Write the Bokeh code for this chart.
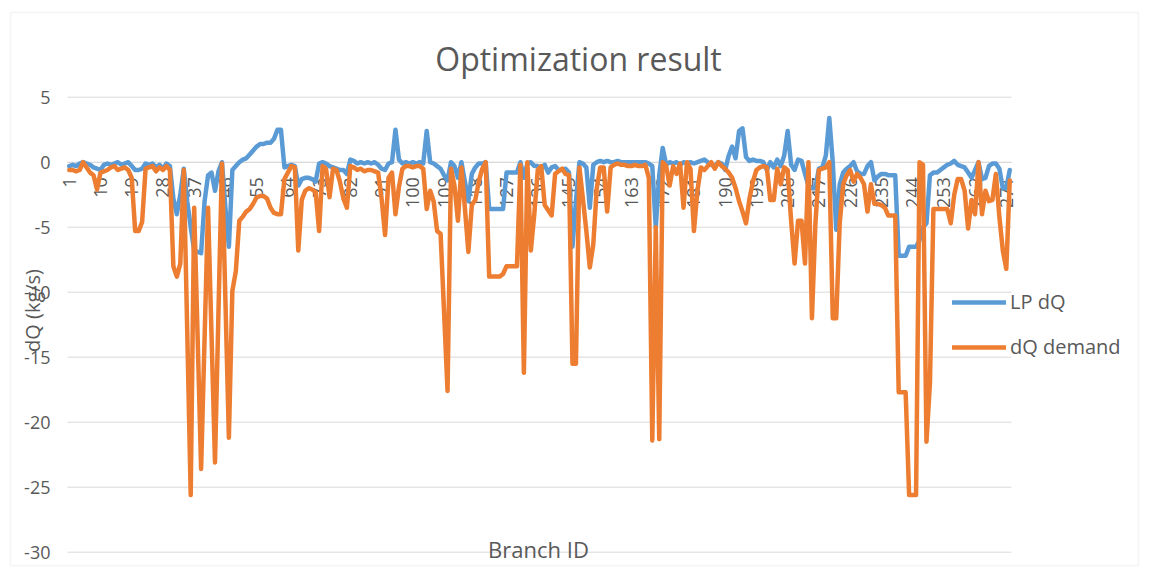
from math import pi
from bokeh.plotting import figure
from bokeh.models import (Range1d, FixedTicker, Legend, LegendItem, Label,
                          BoxAnnotation, LinearAxis)
from bokeh.embed import file_html
from bokeh.resources import INLINE

categories = list(range(1, 273))

lp_dq = [
    -0.3, -0.2, -0.3, -0.1, 0.0, -0.1, -0.2, -0.4, -0.5, -0.6,
    -0.2, -0.1, -0.2, -0.1, 0.0, -0.2, -0.1, 0.0, -0.3, -0.6,
    -0.6, -0.5, -0.1, -0.2, -0.1, -0.4, -0.2, -0.5, -0.1, -0.3,
    -2.8, -4.0, -2.5, -0.5, -3.0, -5.0, -6.8, -6.9, -7.0, -3.0,
    -1.0, -0.8, -2.2, -0.7, 0.0, -3.5, -6.5, -0.6, -0.3, 0.0,
    0.2, 0.3, 0.6, 0.9, 1.2, 1.4, 1.4, 1.5, 1.5, 1.8,
    2.5, 2.5, -0.4, -0.3, -0.2, -0.3, -1.8, -1.3, -1.2, -1.2,
    -1.3, -1.5, -0.1, 0.0, -0.1, -0.3, -0.4, -0.5, -0.6, -0.6,
    -0.9, 0.2, 0.1, -0.1, 0.0, -0.1, 0.0, -0.1, 0.0, -0.2,
    -0.5, -0.6, -0.1, 0.0, 2.5, 0.2, -0.1, 0.0, -0.1, 0.0,
    -0.1, 0.0, -0.1, 2.4, 0.0, -0.1, -0.3, -0.5, -1.0, -1.4,
    0.0, -0.3, -1.2, 0.0, -1.5, -3.0, -0.9, -0.4, -0.1, -0.1,
    0.0, -3.6, -3.6, -3.6, -3.6, -3.6, -0.8, -0.8, -0.8, -0.8,
    0.0, -1.2, -0.1, 0.0, -0.3, -0.3, -0.5, -0.2, -0.8, -0.4,
    -0.3, -0.6, -0.6, -0.5, -0.8, -6.5, -3.0, 0.0, -0.1, -0.4,
    -3.5, -0.2, 0.0, 0.1, 0.0, 0.1, 0.0, 0.0, 0.1, 0.0,
    0.0, 0.0, 0.0, 0.0, 0.0, 0.0, 0.0, -0.1, -0.3, -5.0,
    -1.0, 1.1, -0.2, 0.0, -0.1, 0.0, -0.2, 0.0, -0.1, 0.0,
    -0.1, 0.0, 0.1, 0.2, 0.0, -0.2, -0.3, 0.0, -0.1, -0.6,
    0.5, 1.2, 0.3, 2.4, 2.6, 0.4, 0.1, 0.2, 0.1, 0.1,
    0.0, -0.6, 0.0, -0.4, 0.2, -0.3, 0.5, 2.4, -0.2, -0.6,
    0.2, 0.1, -0.9, -1.8, -2.0, -2.0, -0.5, -0.4, 0.5, 3.4,
    0.0, -5.2, -1.7, -0.8, -0.5, -0.3, 0.0, -0.7, -0.9, -0.9,
    -0.3, 0.0, -1.4, -1.1, -0.9, -0.9, -1.0, -1.0, -1.0, -7.2,
    -7.2, -7.2, -6.5, -6.5, -6.5, -6.0, -5.0, -4.7, -1.0, -0.8,
    -0.8, -0.6, -0.4, -0.2, -0.1, 0.1, -0.2, -0.3, -0.4, -0.8,
    -1.2, -0.6, 0.0, -1.3, -1.2, -0.3, -0.1, -0.1, -0.5, -2.0,
    -2.0, -0.6,
]

dq_demand = [
    -0.6, -0.6, -0.7, -0.6, 0.0, -0.4, -0.8, -1.0, -2.1, -0.8,
    -0.7, -0.6, -0.4, -0.3, -0.6, -0.5, -0.4, -0.6, -1.2, -5.3,
    -5.3, -4.6, -0.5, -0.4, -0.3, -0.7, -0.4, -0.6, -0.3, -0.6,
    -8.0, -8.8, -7.8, -0.6, -13.0, -25.6, -3.5, -13.5, -23.6, -13.5,
    -3.5, -13.3, -23.1, -11.5, -0.1, -10.6, -21.2, -9.9, -8.4, -4.5,
    -4.2, -3.8, -3.6, -3.2, -2.7, -2.6, -2.6, -2.8, -3.5, -3.9,
    -4.0, -4.0, -1.3, -0.8, -0.3, -0.4, -6.8, -2.9, -2.2, -2.0,
    -2.1, -2.3, -5.3, -0.3, -0.5, -2.7, -0.5, -0.6, -1.5, -2.8,
    -3.5, -0.3, -0.4, -0.6, -0.5, -0.7, -0.6, -0.6, -0.7, -0.8,
    -2.8, -5.6, -1.2, -0.8, -4.0, -1.9, -0.5, -0.3, -0.3, -0.4,
    -0.3, -0.3, -0.5, -3.6, -2.2, -3.0, -5.3, -5.5, -11.5, -17.6,
    -0.5, -1.8, -4.5, -0.4, -3.5, -6.9, -3.3, -2.9, -1.5, -0.5,
    0.0, -8.8, -8.8, -8.8, -8.8, -8.6, -8.0, -8.0, -8.0, -8.0,
    -0.2, -16.2, 0.0, -6.8, -4.0, -0.6, -0.3, -3.3, -3.7, -4.1,
    -0.9, -0.7, -0.5, -0.9, -1.0, -15.5, -15.5, -0.4, -2.8, -5.3,
    -8.1, -6.3, -2.0, -0.4, -0.4, -3.8, -0.4, -0.2, -0.1, -0.2,
    -0.2, -0.3, -0.3, -0.2, -0.3, -0.3, -0.2, -1.2, -21.4, -5.0,
    -21.3, 0.0, -0.3, -1.8, -0.3, -0.9, -0.1, -3.5, 0.0, -0.5,
    -5.3, -2.2, -0.4, -0.6, -0.3, 0.0, -0.5, 0.0, -0.3, -0.5,
    -0.8, -1.2, -2.0, -3.0, -3.8, -4.7, -2.8, -1.5, -0.6, -0.4,
    -0.3, -0.4, -2.9, -2.9, -0.5, -1.7, -0.4, -0.6, -4.5, -7.8,
    -4.5, -4.5, -7.8, 0.0, -12.0, -4.7, -0.6, -0.5, -0.4, 0.0,
    -12.0, -12.0, -4.7, -1.7, -1.0, -0.6, -1.5, -0.9, -1.2, -1.7,
    -3.8, -1.7, -3.2, -3.2, -3.3, -3.5, -4.1, -4.1, -4.1, -17.7,
    -17.7, -17.7, -25.6, -25.6, -25.6, 0.0, -0.2, -21.5, -17.0, -3.6,
    -3.6, -3.6, -3.6, -3.6, -4.7, -2.5, -1.3, -1.3, -2.2, -5.1,
    -2.9, -4.0, 0.0, -4.0, -2.2, -3.0, -2.9, -0.9, -4.2, -6.8,
    -8.2, -1.4,
]

x_tick_labels = list(range(1, 272, 9))
y_ticks = [-30, -25, -20, -15, -10, -5, 0, 5]

TEXT = "#595959"
GRID = "#d9d9d9"
FONT = "Open Sans"

# canvas / plot-area geometry (pixels)
W, H = 1149, 568
PL, PR, PT, PB = 67.0, 1011.0, 96.7, 551.7
X_LO, X_HI = 0.5, len(categories) + 0.5
Y_LO, Y_HI = min(y_ticks), max(y_ticks)
kx = (X_HI - X_LO) / (PR - PL)
ky = (Y_HI - Y_LO) / (PB - PT)

p = figure(width=W, height=H, output_backend="svg", toolbar_location=None,
           x_range=Range1d(X_LO - PL * kx, X_HI + (W - PR) * kx),
           y_range=Range1d(Y_LO - (H - PB) * ky, Y_HI + PT * ky),
           min_border=0, x_axis_location=None, y_axis_location=None)
p.outline_line_color = None
p.background_fill_color = "white"
p.border_fill_color = "white"
p.grid.visible = False

# horizontal gridlines limited to the plot area
p.segment(x0=[X_LO] * len(y_ticks), x1=[X_HI] * len(y_ticks),
          y0=y_ticks, y1=y_ticks, line_color=GRID, line_width=1)

ya = LinearAxis(fixed_location=X_LO, ticker=FixedTicker(ticks=y_ticks),
                bounds=(Y_LO, Y_HI), level="underlay")
ya.major_label_overrides = {t: str(t) for t in y_ticks}
ya.axis_line_color = None
ya.major_tick_line_color = None
ya.minor_tick_line_color = None
ya.major_tick_out = 0
ya.major_tick_in = 0
ya.major_label_standoff = 17
ya.major_label_text_font = FONT
ya.major_label_text_font_size = "18px"
ya.major_label_text_color = TEXT
p.add_layout(ya, "left")

xa = LinearAxis(fixed_location=0, ticker=FixedTicker(ticks=x_tick_labels),
                major_label_orientation=pi / 2, bounds=(X_LO, X_HI),
                level="underlay")
xa.major_label_overrides = {t: str(t) for t in x_tick_labels}
xa.axis_line_color = GRID
xa.axis_line_width = 1
xa.major_tick_line_color = None
xa.minor_tick_line_color = None
xa.major_tick_out = 0
xa.major_tick_in = 0
xa.major_label_standoff = 15
xa.major_label_text_font = FONT
xa.major_label_text_font_size = "18px"
xa.major_label_text_color = TEXT
p.add_layout(xa, "below")

r1 = p.line(categories, lp_dq, line_color="#5B9BD5", line_width=4.5,
            line_join="round", line_cap="round")
r2 = p.line(categories, dq_demand, line_color="#ED7D31", line_width=4.5,
            line_join="round", line_cap="round")

legend = Legend(items=[LegendItem(label="LP dQ", renderers=[r1]),
                       LegendItem(label="dQ demand", renderers=[r2])],
                location=(952, H - 361.7), glyph_width=54, glyph_height=30,
                label_height=30, spacing=15, padding=0, margin=0,
                label_standoff=4, border_line_color=None,
                background_fill_alpha=0, label_text_font=FONT,
                label_text_font_size="20px", label_text_color=TEXT)
p.add_layout(legend)

p.add_layout(Label(x=578, y=H - 58, x_units="screen", y_units="screen",
                   text="Optimization result", text_align="center",
                   text_baseline="middle", text_font=FONT,
                   text_font_size="32px", text_color=TEXT))
p.add_layout(Label(x=32, y=H - 310, x_units="screen", y_units="screen",
                   text="dQ (kg/s)", angle=pi / 2, text_align="center",
                   text_baseline="middle", text_font=FONT,
                   text_font_size="20px", text_color=TEXT))
p.add_layout(Label(x=538, y=H - 548, x_units="screen", y_units="screen",
                   text="Branch ID", text_align="center",
                   text_baseline="middle", text_font=FONT,
                   text_font_size="22px", text_color=TEXT))
p.add_layout(BoxAnnotation(left=10, right=1138, top=H - 12, bottom=H - 565,
                           left_units="screen", right_units="screen",
                           top_units="screen", bottom_units="screen",
                           fill_alpha=0, line_color=GRID, line_width=1.5))

open("out.html", "w").write(file_html(p, INLINE))
